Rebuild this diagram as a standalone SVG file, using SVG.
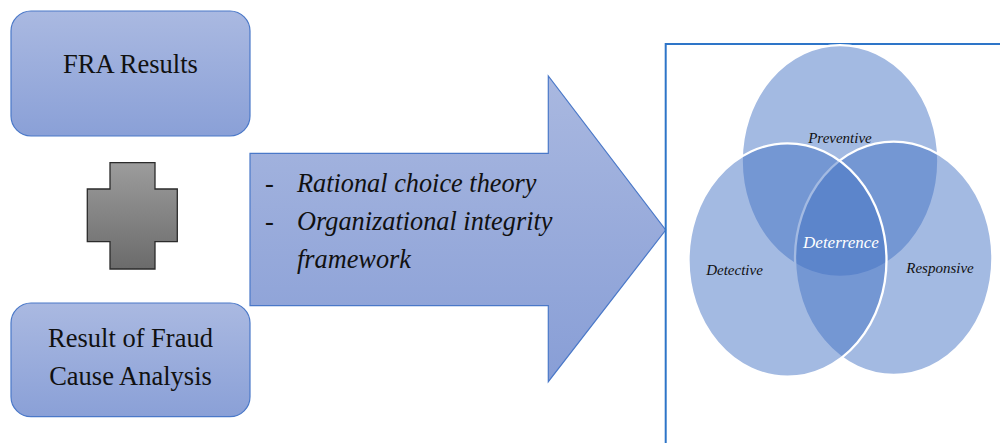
<svg xmlns="http://www.w3.org/2000/svg" width="1000" height="443" viewBox="0 0 1000 443">
<defs>
<linearGradient id="gBox" x1="0" y1="0" x2="0" y2="1">
<stop offset="0" stop-color="#aab9e1"/>
<stop offset="1" stop-color="#8aa0d7"/>
</linearGradient>
<linearGradient id="gArrow" x1="0" y1="0" x2="0" y2="1">
<stop offset="0" stop-color="#a9b8e0"/>
<stop offset="1" stop-color="#889ed6"/>
</linearGradient>
<linearGradient id="gCross" x1="0" y1="0" x2="0" y2="1">
<stop offset="0" stop-color="#9c9c9c"/>
<stop offset="1" stop-color="#6b6b6b"/>
</linearGradient>
<style>
.box{fill:url(#gBox);stroke:#4a78c8;stroke-width:1.2}
text{font-family:'Liberation Serif','Times New Roman','DejaVu Serif',serif}
.t{font-size:26.5px;fill:#111}
.ti{font-style:italic;font-size:26.3px;fill:#111}
.ell{fill:#4472c4;fill-opacity:0.49;stroke:#ffffff;stroke-width:2.3}
.vl{font-style:italic;font-size:15px;fill:#111;text-anchor:middle}
</style>
</defs>
<g id="fra-results">
<rect class="box" x="11" y="11" width="239" height="125" rx="20"/>
<text class="t" x="130.5" y="73" text-anchor="middle">FRA Results</text>
</g>
<g id="plus">
<path d="M110,162.7 H155 V189 H177.3 V241.7 H155 V269 H110 V241.7 H87.3 V189 H110 Z" fill="url(#gCross)" stroke="#2b2b2b" stroke-width="1.3"/>
</g>
<g id="fraud-cause">
<rect class="box" x="11" y="303" width="239" height="113.7" rx="20"/>
<text class="t" x="130.5" y="347" text-anchor="middle">Result of Fraud</text>
<text class="t" x="130.5" y="385" text-anchor="middle">Cause Analysis</text>
</g>
<g id="theory-arrow">
<path d="M250,153.3 H548.3 V76 L665.7,230 L548.3,381.7 V305.7 H250 Z" fill="url(#gArrow)" stroke="#4a78c8" stroke-width="1.2"/>
<text class="t" x="265" y="192">-</text>
<text class="ti" x="297" y="192">Rational choice theory</text>
<text class="t" x="265" y="230">-</text>
<text class="ti" x="297" y="230">Organizational integrity</text>
<text class="ti" x="297" y="268">framework</text>
</g>
<g id="deterrence-panel">
<path d="M665.7,443 V44 H1000" fill="none" stroke="#2e75c8" stroke-width="2"/>
<ellipse class="ell" cx="840" cy="161" rx="98.3" ry="115.8"/>
<ellipse class="ell" cx="893.7" cy="258.3" rx="98.7" ry="116.7"/>
<ellipse class="ell" cx="787.5" cy="260" rx="99" ry="116.7"/>
<text class="vl" x="840" y="143">Preventive</text>
<text class="vl" x="734.5" y="275">Detective</text>
<text class="vl" x="940" y="273">Responsive</text>
<text class="vl" x="841" y="248" style="fill:#ffffff;font-size:17px">Deterrence</text>
</g>
<g id="connectors"></g>
</svg>
